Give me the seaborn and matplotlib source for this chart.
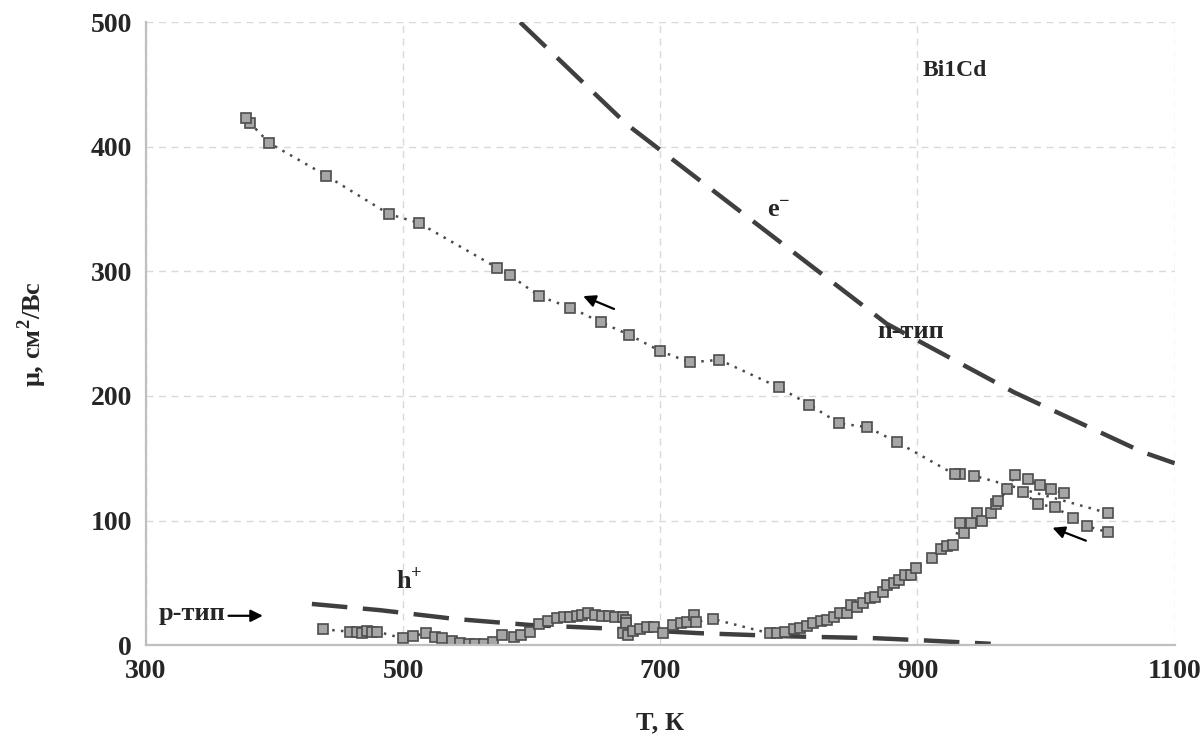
import numpy as np
import pandas as pd
import matplotlib
matplotlib.use("Agg")
import matplotlib.pyplot as plt
import seaborn as sns

# ---- data ----
# n-type branch (upper dotted curve), cooling
n_T = [1048, 944, 933, 929, 884, 861, 839, 816, 792, 746, 723, 700, 676, 654,
       630, 606, 583, 573, 512, 489, 440, 396, 381, 378]
n_mu = [106, 136, 137, 137, 163, 175, 178, 193, 207, 229, 227, 236, 249, 259,
        271, 280, 297, 303, 339, 346, 377, 403, 419, 423]

# heating branch: p-type at low T, then rising towards the peak
h_T = [438, 459, 464, 468, 472, 476, 480, 500, 508, 518, 525, 530, 538, 544,
       551, 556, 563, 570, 577, 586, 592, 599, 606, 613, 620, 625, 630, 635,
       639, 644, 649, 655, 660, 665, 671, 673, 673, 671, 675, 679, 684, 690,
       695, 702, 710, 716, 721, 726, 728, 741, 785, 791, 797, 804, 809, 814,
       819, 825, 830, 835, 840, 845, 848, 853, 858, 863, 867, 873, 876, 882,
       886, 890, 895, 899, 911, 918, 923, 928, 933, 936, 942, 946, 950, 957,
       961, 963, 970, 976, 986, 995, 1004, 1014]
h_mu = [12.6, 10.7, 10.7, 9.9, 11.5, 10.7, 10.7, 5.3, 7.5, 9.4, 6.7, 5.3, 3.2,
        1.9, 0.5, 0.5, 0.8, 2.6, 8.0, 6.7, 8.0, 10.7, 17.0, 19.5, 21.4, 22.7,
        22.7, 23.3, 24.1, 25.4, 24.1, 23.3, 23.3, 22.2, 22.2, 20.0, 17.4, 9.4,
        8.0, 11.5, 12.6, 14.2, 14.7, 9.9, 16.0, 17.9, 18.7, 24.1, 18.7, 20.9,
        9.4, 9.9, 10.7, 12.6, 13.4, 15.2, 17.4, 19.5, 20.0, 22.7, 25.4, 25.9,
        32.1, 30.8, 33.4, 37.4, 38.7, 42.7, 48.1, 50.0, 52.1, 56.1, 56.1, 61.5,
        69.5, 77.5, 79.4, 80.2, 97.6, 90.1, 97.6, 106.0, 99.7, 106.4, 113.6,
        115.5, 124.9, 136.3, 133.1, 128.3, 125.1, 121.9]

# lower right set after the peak
c_T = [982, 994, 1007, 1021, 1032, 1048]
c_mu = [122.7, 113.1, 110.7, 101.8, 95.4, 90.6]

# dashed model curves
e_T = [591, 674, 876, 975, 1075, 1100]
e_mu = [500, 418, 258, 203, 155, 146]
hole_T = [429, 482, 540, 600, 666, 731, 800, 867, 900, 957]
hole_mu = [33, 28, 21, 16, 13, 9.5, 7, 5.5, 4, 1]

x_ticks = [300, 500, 700, 900, 1100]
y_ticks = [0, 100, 200, 300, 400, 500]

sns.set_style("white")
plt.rcParams['font.family'] = ['Liberation Serif', 'DejaVu Serif']
plt.rcParams['font.weight'] = 'bold'
plt.rcParams['mathtext.fontset'] = 'custom'
plt.rcParams['mathtext.rm'] = 'Liberation Serif:bold'
plt.rcParams['mathtext.bf'] = 'Liberation Serif:bold'

fig = plt.figure(figsize=(12.03, 7.44), dpi=100)
ax = fig.add_axes([0.1214, 0.133, 0.855, 0.837])

dash_col = '#3f3f3f'
sns.lineplot(x=e_T, y=e_mu, ax=ax, color=dash_col, lw=3.2, sort=False,
             estimator=None, dashes=False)
sns.lineplot(x=hole_T, y=hole_mu, ax=ax, color=dash_col, lw=3.2, sort=False,
             estimator=None, dashes=False)
for ln in ax.lines:
    ln.set_dashes([8, 3.5])

pt_kw = dict(color='#4a4a4a', lw=1.8, marker='s', markersize=7.5,
             markerfacecolor='#a6a6a6', markeredgecolor='#4d4d4d',
             markeredgewidth=1.2)
for xs, ys in [(n_T, n_mu), (h_T, h_mu), (c_T, c_mu)]:
    sns.lineplot(x=xs, y=ys, ax=ax, sort=False, estimator=None, **pt_kw)
for ln in ax.lines[2:]:
    ln.set_linestyle((0, (1, 2.5)))

ax.set_xlim(300, 1100)
ax.set_ylim(0, 500)
ax.set_xticks(x_ticks)
ax.set_yticks(y_ticks)
ax.tick_params(axis='both', length=0, labelsize=20, pad=10)
for lab in ax.get_xticklabels() + ax.get_yticklabels():
    lab.set_fontweight('bold')
ax.grid(True, color='#d9d9d9', lw=1, ls=(0, (5, 4)))
for s in ['top', 'right']:
    ax.spines[s].set_visible(False)
for s in ['left', 'bottom']:
    ax.spines[s].set_color('#bfbfbf')
    ax.spines[s].set_linewidth(1.6)

ax.set_xlabel('T, К', fontsize=19, fontweight='bold', labelpad=20)
ax.set_ylabel('μ, см$^2$/Вс', fontsize=19, fontweight='bold', labelpad=30)

ax.text(929, 461, 'Bi1Cd', fontsize=17, fontweight='bold', ha='center', va='center')
ax.text(792, 349, r'e$^{-}$', fontsize=19, fontweight='bold', ha='center', va='center')
ax.text(895, 252, 'n-тип', fontsize=19, fontweight='bold', ha='center', va='center')
ax.text(505, 52, r'h$^{+}$', fontsize=19, fontweight='bold', ha='center', va='center')
ax.text(336, 25, 'p-тип', fontsize=19, fontweight='bold', ha='center', va='center')

arr = dict(arrowstyle='-|>', color='black', lw=1.6, mutation_scale=18)
ax.annotate('', xy=(393, 23.5), xytext=(362, 23.5), arrowprops=arr)
ax.annotate('', xy=(638, 281), xytext=(666, 269), arrowprops=arr)
ax.annotate('', xy=(1003, 95), xytext=(1033, 83), arrowprops=arr)

fig.savefig('out.png', dpi=100)
